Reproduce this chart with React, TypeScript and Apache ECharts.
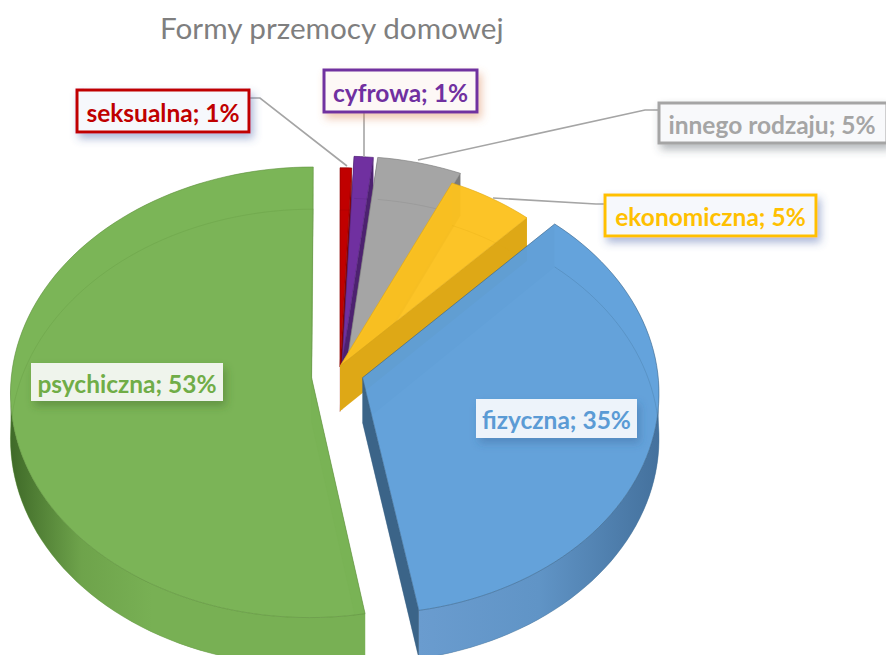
import React, { useEffect, useRef } from "react";
import * as echarts from "echarts";

const titleText = "Formy przemocy domowej";
const categories = ["seksualna", "cyfrowa", "innego rodzaju", "ekonomiczna", "fizyczna", "psychiczna"];
const values = [0.7, 1.1, 5.0, 5.2, 35.23, 52.77];
const explodeX = [0, 0.006, 0.025, 0, 0.075, -0.095];
const explodeY = [-0.036, -0.045, -0.075, -0.04, 0.012, 0.01];
const radiusScale = [0.95, 1, 0.97, 0.955, 0.985, 1];

const topColors = ["#C00000", "#7030A0", "#A5A5A5", "#FCC11F", "#5F9FDA", "#76B151"];
const topAlpha = [1, 1, 1, 0.94, 0.94, 0.94];
const darkColors = ["#8a0000", "#4d2170", "#7b7b7b", "#dea816", "#3b6488", "#5d8f3a"];
const wallStops: string[][] = [
  ["#9a0000", "#8a0000"],
  ["#5a2680", "#4d2170"],
  ["#8f8f8f", "#7b7b7b"],
  ["#eeb72a", "#e6b024"],
  ["#6a9ccf", "#6094c6", "#44719d"],
  ["#3f6a28", "#6ea34b", "#78b054", "#78b054", "#78b054", "#78b054"],
];
const labelColors = ["#C00000", "#7030A0", "#A5A5A5", "#FFC000", "#5B9BD5", "#70AD47"];

const CX = 340, CY = 375, RX = 300, TILT = 0.7467, PERSP = 0.0667, DEPTH = 45, ROT = 0;

function project(px: number, py: number, z: number) {
  const w = 1 - py * PERSP;
  return [CX + (RX * px) / w, CY + (RX * TILT * py) / w + (DEPTH * z) / w];
}

function arcPoints(ex: number, ey: number, r: number, a0: number, a1: number, z: number) {
  const pts: number[][] = [];
  const n = Math.max(3, Math.ceil((a1 - a0) / 2));
  for (let i = 0; i <= n; i++) {
    const t = ((a0 + ((a1 - a0) * i) / n) * Math.PI) / 180;
    pts.push(project(ex + r * Math.sin(t), ey - r * Math.cos(t), z));
  }
  return pts;
}

function renderSlice(params: any, api: any) {
  const i = params.dataIndex;
  const total = values.reduce((a, b) => a + b, 0);
  const before = values.slice(0, i).reduce((a, b) => a + b, 0);
  const a0 = ROT + (before / total) * 360;
  const a1 = a0 + (api.value(0) / total) * 360;
  const ex = explodeX[i];
  const ey = explodeY[i];
  const r = radiusScale[i];
  const col = topColors[i];
  const topArc = arcPoints(ex, ey, r, a0, a1, 0);
  const botArc = arcPoints(ex, ey, r, a0, a1, 1);
  const apexT = project(ex, ey, 0);
  const apexB = project(ex, ey, 1);
  const children: any[] = [];
  children.push({
    type: "polygon",
    shape: { points: [apexB, ...botArc] },
    style: { fill: darkColors[i], opacity: 0.35, stroke: darkColors[i], lineWidth: 0.6 },
  });
  children.push({
    type: "polygon",
    shape: { points: [apexT, topArc[0], botArc[0], apexB] },
    style: { fill: darkColors[i], opacity: i >= 3 ? 0.55 : 0.9 },
  });
  const frontIdx: number[] = [];
  const n = topArc.length - 1;
  for (let k = 0; k <= n; k++) {
    const ang = a0 + ((a1 - a0) * k) / n;
    if (ang >= 90 && ang <= 270) frontIdx.push(k);
  }
  children.push({
    type: "polygon",
    shape: { points: [...topArc, ...botArc.slice().reverse()] },
    style: { fill: col, opacity: 0.4 },
  });
  if (frontIdx.length > 1) {
    const stops = wallStops[i];
    children.push({
      type: "polygon",
      shape: {
        points: [
          ...frontIdx.map((k) => topArc[k]),
          ...frontIdx.map((k) => botArc[k]).reverse(),
        ],
      },
      style: {
        fill: new echarts.graphic.LinearGradient(
          0, 0, 1, 0,
          stops.map((color, k) => ({ offset: k / (stops.length - 1), color }))
        ),
      },
    });
  }
  children.push({
    type: "polygon",
    shape: { points: [apexT, topArc[n], botArc[n], apexB] },
    style: { fill: i === 5 ? col : darkColors[i], opacity: 1 },
  });
  children.push({
    type: "polygon",
    shape: { points: [apexT, ...topArc] },
    style: {
      fill: col,
      opacity: topAlpha[i],
      stroke: darkColors[i],
      lineWidth: 0.6,
    },
  });
  children.push({
    type: "polyline",
    shape: { points: [...botArc] },
    style: { fill: "none", stroke: darkColors[i], lineWidth: 0.6, opacity: 0.4 },
  });
  return { type: "group", children };
}

const boxes = [
  { x: 77, y: 90, w: 172, h: 42, border: true, fill: "#F6F8FC", shadow: "rgba(70,100,170,0.45)" },
  { x: 324, y: 70, w: 153, h: 42, border: true, fill: "#FDF8F6", shadow: "rgba(220,130,80,0.45)" },
  { x: 659, y: 103, w: 228, h: 40, border: true, fill: "#F8F9FB", shadow: "rgba(70,80,90,0.4)" },
  { x: 605, y: 195, w: 211, h: 41, border: true, fill: "#F6F8FC", shadow: "rgba(70,100,170,0.45)" },
  { x: 476, y: 399, w: 161, h: 39, border: false, fill: "#EDF3FA", shadow: "rgba(50,90,140,0.35)" },
  { x: 31, y: 363, w: 192, h: 38, border: false, fill: "#EFF4EC", shadow: "rgba(60,100,40,0.4)" },
];
const leaders = [
  [[249, 98], [260, 98], [347, 166]],
  [[364, 112], [364, 157]],
  [[659, 110], [645, 110], [418, 160]],
  [[605, 204], [596, 204], [493, 198]],
];

function buildGraphic() {
  const out: any[] = [];
  leaders.forEach((points) => {
    out.push({
      type: "polyline",
      z: 20,
      shape: { points },
      style: { fill: "none", stroke: "#A5A5A5", lineWidth: 1.6 },
    });
  });
  boxes.forEach((b, i) => {
    out.push({
      type: "rect",
      z: 21,
      shape: { x: b.x, y: b.y, width: b.w, height: b.h },
      style: {
        fill: b.fill,
        stroke: b.border ? labelColors[i] : "none",
        lineWidth: b.border ? 3 : 0,
        shadowBlur: 8,
        shadowOffsetX: 3,
        shadowOffsetY: 5,
        shadowColor: b.shadow,
      },
    });
    out.push({
      type: "text",
      z: 22,
      x: i === 2 ? 772 : b.x + b.w / 2,
      y: b.y + b.h / 2 + 1,
      style: {
        text: `${categories[i]}; ${Math.round(values[i])}%`,
        fill: labelColors[i],
        font: "bold 24.5px Lato",
        align: "center",
        verticalAlign: "middle",
      },
    });
  });
  return out;
}

export default function App() {
  const ref = useRef<HTMLDivElement>(null);
  useEffect(() => {
    document.body.style.margin = "0";
    const chart = echarts.init(ref.current!, null, { renderer: "svg" });
    chart.setOption({
      animation: false,
      backgroundColor: "#ffffff",
      title: {
        text: titleText,
        left: 155,
        top: 7,
        textStyle: { color: "#7F7F7F", fontFamily: "Lato", fontWeight: "normal", fontSize: 29.7 },
      },
      series: [
        {
          type: "custom",
          coordinateSystem: "none",
          silent: true,
          renderItem: renderSlice,
          data: values.map((v) => [v]),
          dimensions: ["value"],
        },
      ],
      graphic: buildGraphic(),
    });
    return () => chart.dispose();
  }, []);
  return <div ref={ref} style={{ width: 886, height: 655, overflow: "hidden" }} />;
}
